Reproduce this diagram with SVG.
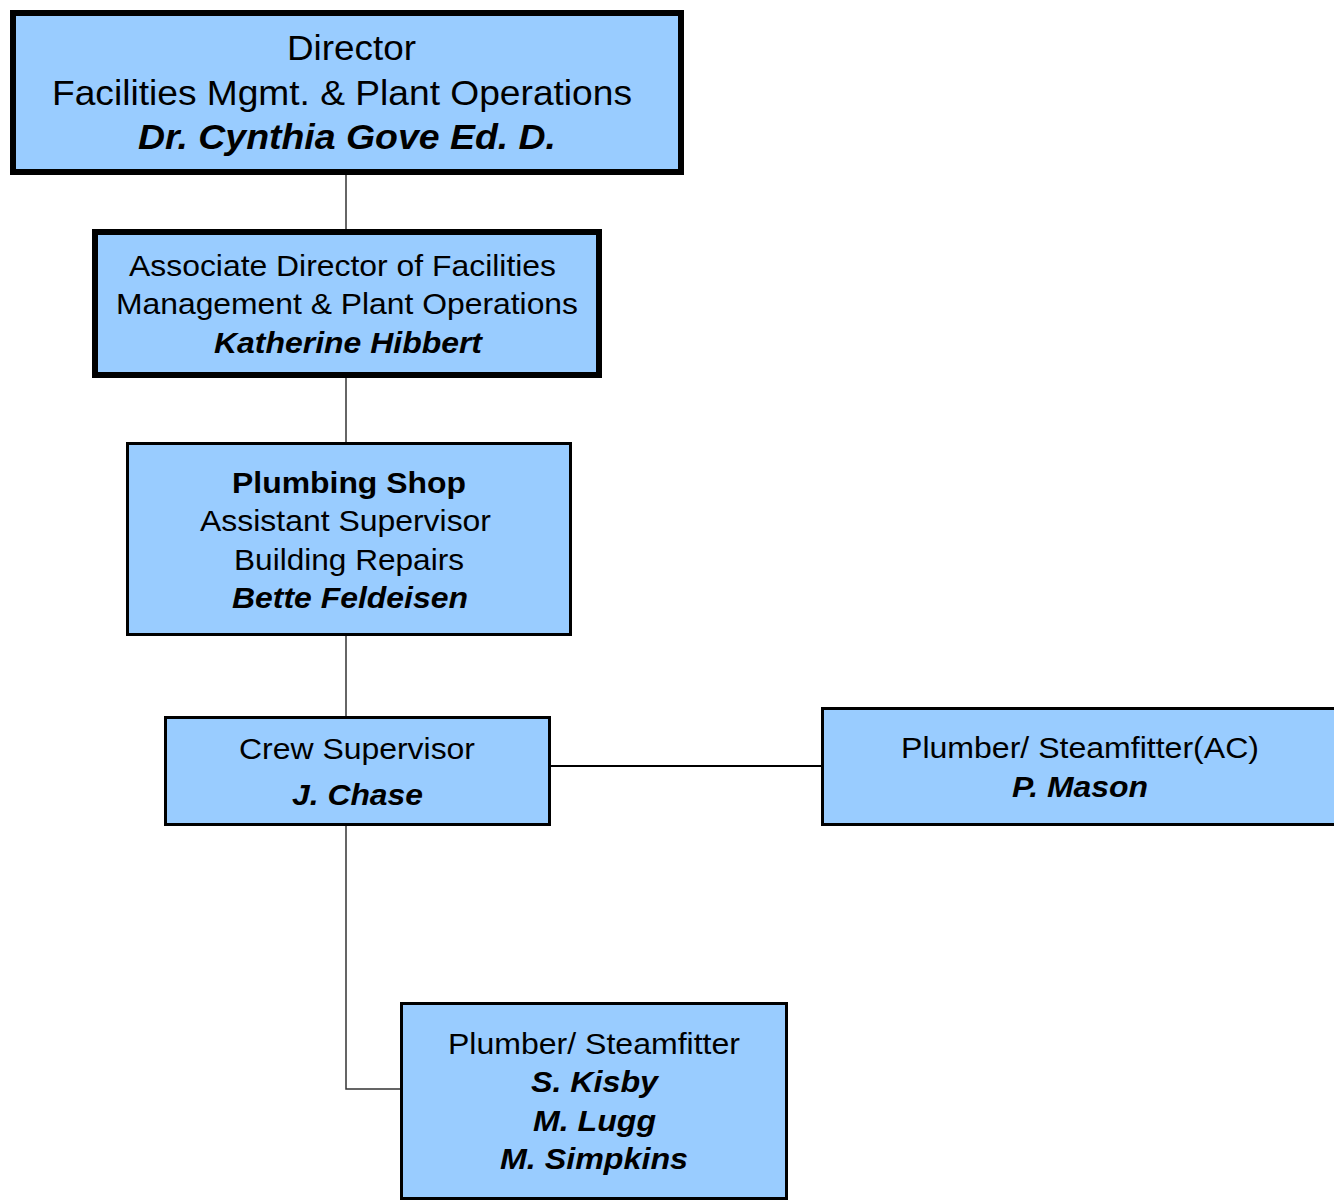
<svg xmlns="http://www.w3.org/2000/svg" width="1334" height="1204" viewBox="0 0 1334 1204">
<style>
.box{fill:#99CCFF;stroke:#000}
.thick{stroke-width:6}
.thin{stroke-width:3}
text{font-family:"Liberation Sans",Arial,sans-serif;fill:#000;text-anchor:middle}
.big{font-size:35px}
.med{font-size:30px}
.b{font-weight:bold}
.bi{font-weight:bold;font-style:italic}
.conn line,.conn polyline{fill:none;stroke:#333;stroke-width:1.5}
</style>
<rect width="1334" height="1204" fill="#fff"/>
<g class="conn" id="connectors">
<line x1="346" y1="175" x2="346" y2="229"/>
<line x1="346" y1="378" x2="346" y2="442"/>
<line x1="346" y1="636" x2="346" y2="716"/>
<polyline points="346,826 346,1089 400,1089"/>
<line x1="551" y1="766" x2="821" y2="766" style="stroke:#000;stroke-width:2"/>
</g>
<g id="director">
<rect class="box thick" x="13" y="13" width="668" height="159"/>
<text class="big" x="351.5" y="60" textLength="129" lengthAdjust="spacingAndGlyphs">Director</text>
<text class="big" x="342" y="105" textLength="580" lengthAdjust="spacingAndGlyphs">Facilities Mgmt. &amp; Plant Operations</text>
<text class="big bi" x="347" y="149" textLength="418" lengthAdjust="spacingAndGlyphs">Dr. Cynthia Gove Ed. D.</text>
</g>
<g id="assoc">
<rect class="box thick" x="95" y="232" width="504" height="143"/>
<text class="med" x="342.5" y="276" textLength="427" lengthAdjust="spacingAndGlyphs">Associate Director of Facilities</text>
<text class="med" x="347" y="314" textLength="462" lengthAdjust="spacingAndGlyphs">Management &amp; Plant Operations</text>
<text class="med bi" x="348" y="353" textLength="268" lengthAdjust="spacingAndGlyphs">Katherine Hibbert</text>
</g>
<g id="plumbing">
<rect class="box thin" x="127.5" y="443.5" width="443" height="191"/>
<text class="med b" x="349" y="493" textLength="234" lengthAdjust="spacingAndGlyphs">Plumbing Shop</text>
<text class="med" x="345.5" y="531" textLength="291" lengthAdjust="spacingAndGlyphs">Assistant Supervisor</text>
<text class="med" x="349" y="570" textLength="230" lengthAdjust="spacingAndGlyphs">Building Repairs</text>
<text class="med bi" x="350" y="608" textLength="236" lengthAdjust="spacingAndGlyphs">Bette Feldeisen</text>
</g>
<g id="crew">
<rect class="box thin" x="165.5" y="717.5" width="384" height="107"/>
<text class="med" x="357" y="759" textLength="236" lengthAdjust="spacingAndGlyphs">Crew Supervisor</text>
<text class="med bi" x="357.5" y="805" textLength="131" lengthAdjust="spacingAndGlyphs">J. Chase</text>
</g>
<g id="mason">
<rect class="box thin" x="822.5" y="708.5" width="520" height="116"/>
<text class="med" x="1080" y="758" textLength="358" lengthAdjust="spacingAndGlyphs">Plumber/ Steamfitter(AC)</text>
<text class="med bi" x="1080" y="797" textLength="136" lengthAdjust="spacingAndGlyphs">P. Mason</text>
</g>
<g id="steamfitters">
<rect class="box thin" x="401.5" y="1003.5" width="385" height="195"/>
<text class="med" x="594" y="1054" textLength="292" lengthAdjust="spacingAndGlyphs">Plumber/ Steamfitter</text>
<text class="med bi" x="594.5" y="1092" textLength="127" lengthAdjust="spacingAndGlyphs">S. Kisby</text>
<text class="med bi" x="594.5" y="1131" textLength="123" lengthAdjust="spacingAndGlyphs">M. Lugg</text>
<text class="med bi" x="594" y="1169" textLength="188" lengthAdjust="spacingAndGlyphs">M. Simpkins</text>
</g>
</svg>
